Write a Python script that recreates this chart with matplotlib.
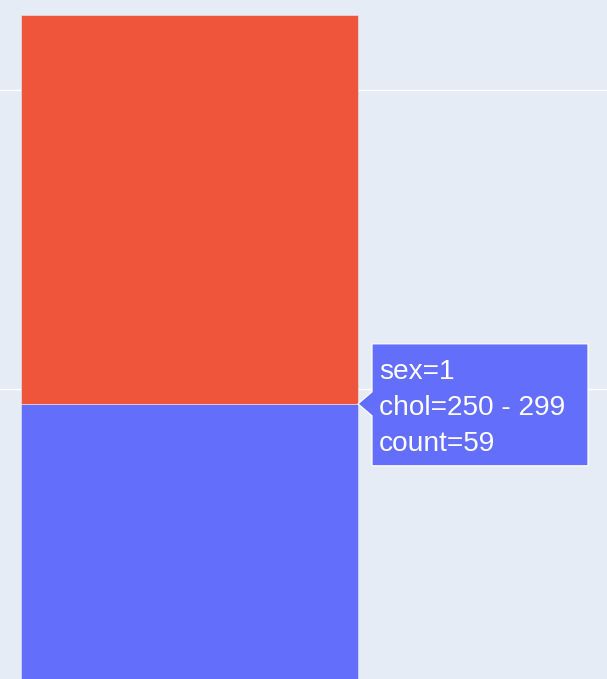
import matplotlib
matplotlib.use("Agg")
import matplotlib.pyplot as plt
from matplotlib.patches import Polygon
from matplotlib.transforms import IdentityTransform

# histogram bin (chol 250 - 299), counts per sex, stacked
bin_left = [250]
bin_width = 50
count_sex1 = [59]
count_sex0 = [26]

hover_lines = ["sex=1", "chol=250 - 299", "count=59"]

plt.rcParams['font.family'] = ['Liberation Sans', 'DejaVu Sans']

fig = plt.figure(figsize=(6.07, 6.79), dpi=100)
ax = fig.add_axes([0, 0, 1, 1])
ax.set_facecolor('#E5ECF6')

ax.bar(bin_left, count_sex1, width=bin_width, align='edge', color='#636EFA',
       edgecolor='#E5ECF6', linewidth=0.4, zorder=2)
ax.bar(bin_left, count_sex0, width=bin_width, bottom=count_sex1, align='edge',
       color='#EF553B', edgecolor='#E5ECF6', linewidth=0.4, zorder=2)

# zoomed-in view of the plotly chart (limits set after ticks so they stick)
ax.set_yticks([20, 40, 60, 80])
ax.set_xlim(250 - 21 * bin_width / 337, 250 + 586 * bin_width / 337)
ax.set_ylim(40.6, 86.0)
ax.grid(axis='y', color='white', linewidth=1.0, zorder=1)
ax.set_axisbelow(True)
ax.tick_params(left=False, bottom=False, labelleft=False, labelbottom=False)
for s in ax.spines.values():
    s.set_visible(False)

# hover label pointing at the top right corner of the blue bar
fig.canvas.draw()
px, py = ax.transData.transform((bin_left[0] + bin_width, count_sex1[0]))
box = [(px, py), (px + 14, py + 12), (px + 14, py + 60), (px + 230, py + 60),
       (px + 230, py - 62), (px + 14, py - 62), (px + 14, py - 12)]
fig.patches.append(Polygon(box, closed=True, facecolor='#636EFA', edgecolor='white',
                           linewidth=0.9, transform=IdentityTransform(), zorder=5))
for i, line in enumerate(hover_lines):
    fig.text(px + 21, py + 25 - 36 * i, line, color='white', fontsize=20.2,
             va='baseline', ha='left', transform=IdentityTransform(), zorder=6)

plt.savefig('out.png', dpi=100)
